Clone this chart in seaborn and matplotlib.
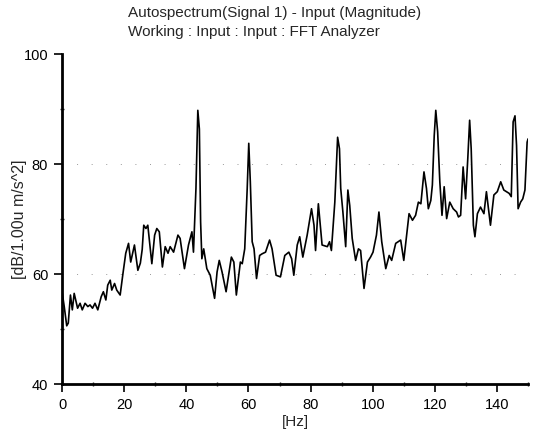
import matplotlib
matplotlib.use("Agg")
import matplotlib.pyplot as plt
import seaborn as sns
from matplotlib.ticker import MultipleLocator

# spectrum
freq_hz = [0.0, 0.7, 1.5, 2.0, 2.7, 3.3, 3.9, 4.4, 5.0, 5.8, 6.5, 7.4, 8.3, 9.0, 9.8,
           10.6, 11.5, 12.6, 13.3, 14.1, 14.7, 15.5, 16.0, 16.9, 17.6, 18.7, 19.6,
           20.5, 21.4, 22.1, 23.3, 24.4, 25.2, 25.8, 26.3, 27.0, 27.6, 28.9, 29.8,
           30.5, 31.3, 32.3, 33.2, 34.1, 34.8, 35.9, 37.3, 38.0, 39.4, 40.7, 41.8,
           42.3, 43.1, 43.7, 44.2, 44.6, 45.0, 45.6, 46.6, 47.7, 49.1, 49.9, 50.6,
           51.5, 52.8, 54.5, 55.3, 56.1, 57.4, 58.0, 58.8, 59.6, 60.1, 60.6, 61.2,
           61.8, 62.6, 63.6, 64.4, 65.5, 66.8, 67.6, 68.9, 70.3, 71.7, 73.0, 73.9,
           74.6, 75.7, 76.5, 77.5, 78.9, 80.3, 81.1, 81.6, 82.5, 83.2, 83.7, 85.4,
           86.1, 86.7, 87.8, 88.7, 89.3, 89.7, 90.4, 91.3, 92.0, 92.6, 93.4, 94.5,
           95.4, 96.1, 97.2, 98.3, 99.3, 100.1, 101.2, 102.0, 102.9, 104.2, 105.3,
           106.1, 107.4, 109.0, 110.0, 111.7, 112.8, 113.8, 114.7, 115.5, 116.5,
           117.3, 117.9, 118.7, 119.2, 119.8, 120.3, 120.9, 121.6, 122.3, 123.0,
           123.8, 124.8, 125.9, 127.0, 127.6, 128.3, 129.1, 129.9, 130.6, 131.2,
           131.7, 132.4, 132.9, 133.7, 134.7, 135.8, 136.6, 137.2, 137.9, 139.0,
           140.1, 141.2, 142.2, 143.9, 144.6, 145.2, 145.8, 146.3, 146.8, 147.6,
           148.3, 149.0, 149.7, 150.0]
level_db = [56.8, 54.1, 50.6, 51.1, 56.2, 53.5, 56.5, 55.3, 53.8, 54.7, 53.5, 54.7, 54.1,
            54.4, 53.8, 54.7, 53.5, 55.9, 56.8, 55.3, 58.0, 58.9, 57.1, 58.3, 57.1,
            56.2, 60.1, 63.8, 65.6, 62.2, 65.3, 60.7, 62.0, 64.5, 68.9, 68.3, 68.9,
            61.9, 67.1, 68.3, 67.7, 61.3, 65.0, 63.8, 65.0, 64.0, 67.1, 66.5, 61.0,
            65.3, 67.7, 64.0, 75.6, 89.8, 86.4, 69.5, 62.8, 64.6, 61.0, 59.8, 55.6,
            60.4, 62.5, 60.4, 56.8, 63.1, 62.2, 56.2, 62.2, 61.9, 64.6, 75.6, 83.8,
            76.8, 65.9, 64.6, 59.2, 63.4, 63.7, 64.0, 66.2, 64.6, 59.8, 59.5, 63.4,
            64.0, 62.8, 59.8, 65.3, 66.8, 63.1, 67.1, 71.9, 68.9, 64.3, 72.8, 68.3,
            65.3, 65.0, 65.9, 64.3, 73.1, 84.9, 82.8, 75.6, 71.3, 65.0, 75.3, 72.5,
            66.5, 62.5, 64.6, 64.3, 57.4, 62.2, 63.1, 64.0, 67.1, 71.3, 65.9, 61.0,
            63.4, 62.5, 65.6, 66.2, 62.5, 71.0, 69.8, 70.7, 73.1, 72.8, 78.6, 75.6,
            71.9, 73.4, 76.2, 85.2, 89.8, 85.9, 76.8, 70.7, 75.9, 70.1, 73.1, 71.9,
            71.3, 70.4, 70.7, 79.5, 73.7, 81.0, 88.0, 82.8, 68.9, 66.8, 71.0, 72.2,
            71.0, 75.0, 72.2, 68.9, 74.4, 75.0, 76.8, 75.3, 74.7, 74.1, 87.7, 88.8,
            83.4, 71.9, 73.1, 73.7, 75.3, 84.0, 84.6]

x_ticks = [0, 20, 40, 60, 80, 100, 120, 140]
y_ticks = [40, 60, 80, 100]

sns.set_theme(style="ticks")
plt.rcParams['font.family'] = ['Liberation Sans', 'DejaVu Sans']

fig = plt.figure(figsize=(5.35, 4.34), dpi=100)
ax = fig.add_axes([0.116, 0.115, 0.871, 0.76])

sns.lineplot(x=freq_hz, y=level_db, color="black", linewidth=1.2, ax=ax)

# faint dotted grid like the scan
for yv in [60, 80]:
    ax.axhline(yv, color="#999999", linewidth=0.7, linestyle=(0, (1, 14)), zorder=0)

ax.set_xlim(0, 150)
ax.set_ylim(40, 100)
ax.set_xticks(x_ticks)
ax.set_yticks(y_ticks)
ax.xaxis.set_minor_locator(MultipleLocator(10))
ax.yaxis.set_minor_locator(MultipleLocator(10))
ax.tick_params(which="major", length=6, width=1.2, pad=4, labelsize=10.5, colors="black")
ax.tick_params(which="minor", length=3, width=1.0, direction="inout")

sns.despine(ax=ax)
for side in ["left", "bottom"]:
    ax.spines[side].set_linewidth(2)
    ax.spines[side].set_color("black")

ax.set_xlabel("[Hz]", fontsize=11, labelpad=2)
ax.set_ylabel("[dB/1.00u m/s^2]", fontsize=11.5)
ax.yaxis.set_label_coords(-0.075, 0.5)

fig.text(0.239, 0.969, "Autospectrum(Signal 1) - Input (Magnitude)", ha="left", va="center", fontsize=11)
fig.text(0.239, 0.927, "Working : Input : Input : FFT Analyzer", ha="left", va="center", fontsize=11)

fig.savefig("out.png", dpi=100)
